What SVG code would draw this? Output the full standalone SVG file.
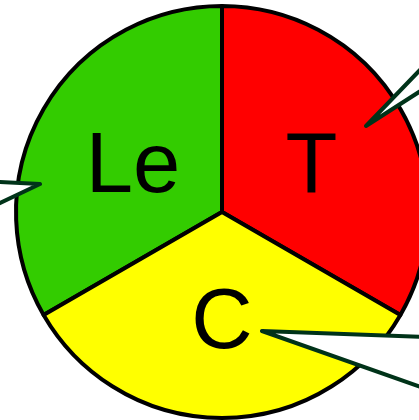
<svg xmlns="http://www.w3.org/2000/svg" width="419" height="420" viewBox="0 0 419 420">
<style>
.sec{stroke:#000;stroke-width:4;stroke-linejoin:round}
.lbl{font-family:"Liberation Sans",Arial,sans-serif;font-size:85px;fill:#000;text-anchor:middle}
.call{fill:#fff;stroke:#003319;stroke-width:4;stroke-linejoin:round}
</style>
<rect width="419" height="420" fill="#fff"/>
<g id="node-Le">
<path class="sec" fill="#33cc00" d="M222,212 L222,6 A206,206 0 0 0 43.6,315 Z"/>
<text class="lbl" x="133" y="192">Le</text>
</g>
<g id="node-T">
<path class="sec" fill="#ff0000" d="M222,212 L222,6 A206,206 0 0 1 400.4,315 Z"/>
<text class="lbl" x="311.5" y="192">T</text>
</g>
<g id="node-C">
<path class="sec" fill="#ffff00" d="M222,212 L400.4,315 A206,206 0 0 1 43.6,315 Z"/>
<text class="lbl" x="222" y="348">C</text>
</g>
<g id="connectors">
<polygon class="call" points="366,126 472,16 472,58"/>
<polygon class="call" points="40,184 -40,180 -40,222"/>
<polygon class="call" points="262,331 480,339 480,408"/>
</g>
</svg>
